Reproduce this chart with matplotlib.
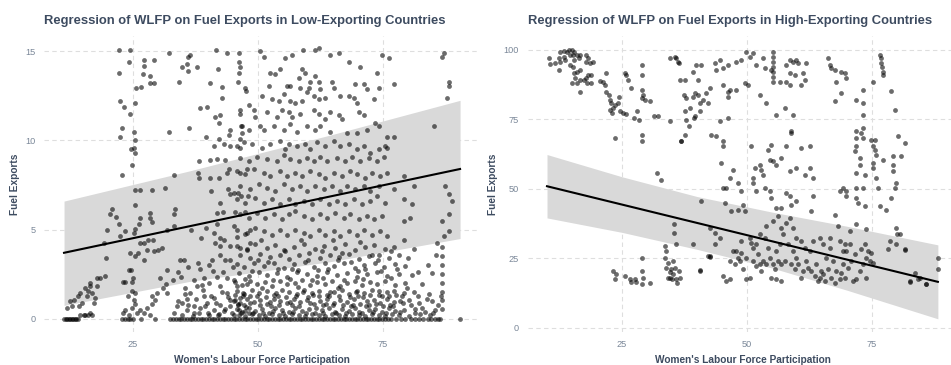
import numpy as np
import matplotlib
matplotlib.use("Agg")
import matplotlib.pyplot as plt

# ---- values ----
# low-exporting panel: points sitting on zero fuel exports (x only)
low_zero_x = [11.2, 11.5, 11.8, 12.1, 12.4, 12.7, 13.0, 13.3, 13.6, 14.0,
              22.8, 23.3, 23.9, 24.4, 24.9, 26.5, 29.4,
              32.4, 33.0, 33.5, 34.1, 34.6, 35.2, 35.7, 36.3, 36.8, 37.4, 37.9,
              38.5, 39.0, 39.6, 40.1, 40.7, 41.2, 41.8, 42.3, 42.9, 43.4, 44.0,
              44.5, 45.1, 45.6, 46.2, 46.7, 47.3, 47.8, 48.4, 48.9, 49.5, 50.0,
              50.6, 51.1, 51.7, 52.2, 52.8, 53.3, 53.9, 54.4, 55.0, 55.5, 56.1,
              56.6, 57.2, 57.7, 58.3, 58.8, 59.4, 59.9, 60.5, 61.0, 61.6, 62.1,
              62.7, 63.2, 63.8, 64.3, 64.9, 65.4, 66.0, 66.5, 67.1, 67.6, 68.2,
              68.7, 69.3, 69.8, 70.4, 70.9, 71.5, 72.0, 72.6, 73.1, 73.7, 74.2,
              74.8, 75.3, 75.9, 76.6, 77.5, 78.6, 79.4, 80.5, 81.3, 82.2, 83.0,
              83.9, 84.6, 85.4, 86.0, 86.4, 90.4]

low_top = [(22.2, 15.1), (24.3, 15.1), (22.2, 13.8), (24.1, 14.4), (27.1, 14.5), (27.1, 14.2),
           (29.1, 14.5), (26.9, 13.7), (28.4, 13.6), (28.3, 13.2), (29.1, 13.2), (25.6, 12.96),
           (26.5, 13.0), (25.3, 12.1), (22.4, 12.2), (23.1, 11.9), (24.3, 11.5), (22.7, 10.7),
           (22.4, 10.2), (25.1, 10.5), (25.3, 10.0), (25.1, 9.6), (25.3, 9.3), (24.6, 9.5),
           (24.7, 8.6), (22.7, 8.06), (32.1, 10.5), (36.1, 10.7), (32.1, 14.9), (34.2, 13.3),
           (34.7, 14.1), (35.7, 14.3), (35.9, 14.7), (36.4, 14.8), (35.9, 13.9), (37.7, 14.1),
           (38.3, 11.8), (39.7, 11.9), (40.3, 13.2), (41.6, 15.1), (43.7, 14.9), (41.9, 14.0),
           (42.8, 13.0), (42.7, 12.4), (39.6, 10.2), (41.4, 11.3), (42.4, 11.4), (42.1, 11.0),
           (42.1, 10.1), (41.1, 9.7), (43.1, 9.8), (44.3, 10.6), (44.1, 10.3), (46.1, 14.9),
           (46.1, 14.4), (46.4, 14.1), (46.1, 13.8), (45.9, 13.3), (47.4, 12.96), (47.6, 12.8),
           (46.4, 11.7), (46.5, 10.8), (46.7, 10.4), (46.3, 10.1), (44.4, 9.7), (46.3, 9.6),
           (50.4, 15.0), (51.1, 14.7), (55.4, 14.6), (56.7, 14.8), (58.9, 15.1), (61.4, 15.1),
           (62.1, 15.2), (64.4, 14.8), (66.1, 14.9), (68.1, 14.4), (70.4, 14.1), (74.7, 14.8),
           (76.1, 14.6), (73.7, 13.8), (52.4, 13.8), (53.4, 13.7), (54.4, 14.0), (52.1, 13.05),
           (55.7, 13.05), (56.4, 13.05), (58.1, 13.5), (58.7, 14.0), (59.4, 13.8), (60.4, 13.3),
           (61.4, 13.6), (62.1, 13.3), (62.4, 12.9), (60.1, 12.96), (58.4, 12.96), (64.7, 13.3),
           (65.1, 12.96), (69.4, 13.15), (71.1, 13.15), (71.7, 12.87), (74.1, 12.96), (77.1, 13.15),
           (86.7, 14.7), (87.1, 14.9), (88.1, 13.3), (88.2, 13.05), (87.7, 12.4), (85.1, 10.8),
           (48.1, 12.0), (49.1, 11.7), (50.7, 12.5), (52.7, 12.3), (54.1, 12.2), (55.1, 12.6),
           (56.4, 12.2), (57.4, 12.1), (58.7, 12.2), (59.7, 12.7), (61.1, 12.5), (62.1, 12.3),
           (63.4, 12.4), (66.4, 12.5), (68.1, 12.5), (69.1, 12.4), (69.7, 12.1), (73.1, 12.3),
           (46.4, 11.5), (49.4, 11.3), (51.7, 11.6), (53.7, 11.3), (54.7, 11.7), (56.1, 11.6),
           (56.7, 11.3), (58.4, 11.5), (61.1, 11.7), (62.1, 11.5), (63.4, 11.2), (64.4, 11.6),
           (66.1, 11.4), (66.7, 11.2), (70.1, 11.6), (71.1, 11.4), (73.4, 11.0), (74.1, 10.8),
           (46.7, 10.8), (48.1, 10.6), (50.4, 10.8), (51.1, 10.6), (53.1, 10.8), (55.1, 10.6),
           (56.4, 10.9), (57.7, 10.5), (59.7, 10.8), (61.4, 10.6), (62.4, 10.8), (64.4, 10.5),
           (67.7, 10.4), (69.7, 10.4), (71.7, 10.6), (75.7, 10.2), (77.1, 10.2), (75.4, 9.7)]

low_mid = [(25.3, 7.2), (26.3, 7.2), (28.7, 7.2), (25.3, 6.4), (31.4, 7.35), (33.2, 8.06),
           (38.1, 8.84), (40.3, 8.9), (41.7, 8.97), (43.4, 8.9), (37.9, 8.19), (38.1, 7.9),
           (40.4, 7.9), (42.1, 7.9), (43.7, 8.19), (44.1, 8.4), (46.4, 8.19), (47.7, 8.4),
           (43.9, 7.25), (44.4, 6.97), (45.1, 7.07), (45.9, 7.07), (46.5, 6.9), (47.9, 6.9),
           (40.6, 7.16), (42.4, 6.5), (42.9, 5.98), (41.7, 5.94), (45.4, 6.0), (47.4, 6.0),
           (33.4, 6.13), (33.1, 5.85), (31.7, 5.0), (33.2, 5.2), (36.5, 4.97), (38.6, 4.54),
           (39.6, 5.1), (41.7, 5.3), (41.1, 4.8), (41.4, 4.26), (42.4, 4.54), (42.4, 4.07),
           (43.1, 4.4), (45.1, 5.2), (45.7, 4.6), (47.4, 4.78), (48.3, 5.0), (48.3, 4.26),
           (46.3, 3.97), (44.4, 4.07), (42.4, 3.6), (43.4, 3.3), (44.4, 3.3), (47.7, 3.88),
           (40.7, 3.3), (40.1, 3.04), (38.4, 2.8), (37.9, 3.13), (34.4, 3.32), (35.2, 3.32),
           (31.7, 2.76), (29.9, 3.88), (30.7, 3.97), (28.9, 4.44), (29.1, 3.79), (27.7, 3.88),
           (27.2, 3.32), (27.1, 4.26), (27.9, 4.4), (28.3, 5.94), (28.4, 5.66), (28.7, 5.4),
           (26.4, 5.66), (26.1, 5.3), (25.4, 5.04), (25.2, 4.8), (26.3, 4.26), (25.9, 3.7),
           (25.3, 3.5), (24.3, 3.7), (24.5, 2.72), (24.1, 2.72), (22.4, 4.63), (23.4, 4.9),
           (22.1, 5.3), (21.6, 5.72), (20.4, 5.85), (20.7, 6.17), (19.7, 5.0), (19.1, 4.26),
           (19.6, 3.41),
           (45.7, 9.7), (47.1, 9.9), (48.7, 9.8), (50.7, 9.6), (52.4, 9.8), (54.4, 9.97),
           (55.4, 9.5), (56.1, 9.8), (57.7, 9.7), (59.4, 9.8), (60.4, 9.5), (61.7, 9.9),
           (63.4, 9.7), (65.1, 9.97), (66.4, 9.7), (68.1, 9.8), (69.7, 9.5), (71.1, 9.7),
           (72.4, 9.3), (74.1, 9.5), (75.7, 9.6), (46.4, 9.03), (48.1, 8.84), (49.7, 9.1),
           (51.7, 8.94), (53.7, 8.84), (55.1, 9.2), (56.4, 8.94), (58.1, 8.84), (59.7, 9.03),
           (61.1, 8.84), (62.4, 9.1), (63.7, 8.84), (65.7, 9.03), (67.4, 8.84), (68.7, 9.1),
           (70.4, 8.84), (72.1, 9.03), (73.7, 8.84), (75.1, 9.1), (45.7, 8.28), (47.4, 8.1),
           (49.1, 8.38), (51.1, 8.19), (52.4, 8.0), (54.4, 8.28), (55.7, 8.0), (57.4, 8.19),
           (58.7, 8.0), (60.4, 8.28), (62.1, 8.1), (63.4, 7.9), (65.1, 8.19), (66.7, 8.0),
           (68.4, 8.28), (69.7, 8.1), (71.4, 7.9), (72.7, 8.19), (74.4, 8.0), (75.7, 8.19),
           (79.1, 8.0), (46.4, 7.44), (48.4, 7.25), (50.1, 7.53), (51.7, 7.35), (53.4, 7.16),
           (55.1, 7.53), (56.7, 7.25), (58.4, 7.44), (59.7, 7.16), (61.4, 7.44), (63.1, 7.25),
           (64.7, 7.44), (66.4, 7.16), (67.7, 7.44), (69.4, 7.25), (71.1, 7.44), (72.4, 7.16),
           (74.1, 7.44), (77.1, 7.25), (81.1, 7.44), (87.4, 7.44), (88.1, 6.97), (88.7, 6.6),
           (45.7, 6.69), (47.4, 6.5), (49.4, 6.78), (51.1, 6.5), (52.7, 6.69), (54.4, 6.41),
           (56.1, 6.69), (57.4, 6.41), (59.1, 6.6), (60.7, 6.41), (62.4, 6.69), (64.1, 6.41),
           (65.7, 6.6), (67.4, 6.41), (69.1, 6.69), (70.7, 6.41), (72.4, 6.6), (73.7, 6.88),
           (75.4, 6.5), (79.1, 6.69), (80.7, 6.41), (46.4, 5.85), (48.1, 5.66), (49.7, 5.94),
           (51.4, 5.66), (53.1, 5.85), (54.7, 5.57), (56.1, 5.85), (57.4, 6.04), (59.1, 5.75),
           (60.7, 5.57), (62.4, 5.85), (63.7, 5.66), (65.4, 5.94), (67.1, 5.66), (68.4, 5.85),
           (70.1, 5.57), (71.7, 5.75), (73.1, 5.57), (74.7, 5.75), (80.4, 5.66), (79.1, 5.47),
           (86.7, 5.47), (88.1, 5.85), (45.7, 5.0), (47.7, 4.82), (49.4, 5.1), (51.1, 4.91),
           (52.7, 4.72), (54.4, 5.0), (55.7, 4.72), (57.4, 5.0), (59.1, 4.82), (60.4, 4.63),
           (62.1, 5.0), (63.4, 4.72), (65.1, 4.91), (66.4, 4.63), (68.1, 4.91), (69.7, 4.72),
           (71.1, 5.0), (72.7, 4.72), (74.4, 4.91), (75.7, 4.63), (79.1, 4.44), (87.1, 4.63),
           (88.1, 4.91), (85.7, 4.26)]

low_bottom = [(22.9, 2.05), (23.4, 2.05), (24.7, 2.05), (24.9, 2.29), (24.7, 1.54), (25.3, 1.45),
              (30.4, 2.29), (31.6, 1.97), (30.9, 1.73), (31.7, 1.45), (32.9, 2.2), (34.5, 2.34),
              (37.1, 2.16), (35.4, 1.73), (36.3, 1.45), (37.7, 1.82), (39.1, 2.29), (40.1, 2.01),
              (41.7, 2.34), (43.7, 2.29), (45.1, 2.16), (42.4, 1.82), (43.7, 1.45), (45.7, 1.82),
              (47.7, 1.97), (46.9, 1.45), (33.7, 0.7), (34.7, 0.88), (35.7, 0.51), (37.1, 0.7),
              (38.4, 0.6), (39.7, 0.88), (41.1, 0.51), (42.4, 0.79), (43.1, 0.42), (44.4, 0.7),
              (45.1, 0.98), (46.1, 0.51), (47.1, 0.79), (48.1, 0.33), (35.7, 1.11), (39.1, 1.26),
              (41.1, 1.17), (44.4, 1.07), (46.4, 1.17), (37.1, 0.33), (40.1, 0.23), (42.1, 0.29),
              (45.1, 0.23), (47.4, 0.42), (22.9, 0.33), (23.4, 0.51), (24.1, 0.23), (24.7, 0.6),
              (25.3, 0.85), (25.7, 0.33), (26.4, 0.51), (27.1, 0.33), (27.7, 0.6), (28.3, 0.23),
              (23.9, 1.26), (25.1, 1.04), (28.7, 0.85), (29.4, 1.07), (29.7, 1.45), (28.7, 1.26),
              (11.7, 0.6), (12.4, 0.98), (13.2, 1.07), (12.7, 0.7), (13.9, 1.26), (14.3, 1.45),
              (14.1, 0.7), (14.7, 0.88), (15.1, 0.23), (15.4, 0.23), (15.7, 1.26), (15.9, 1.54),
              (15.4, 1.73), (16.3, 1.82), (16.4, 2.01), (16.7, 1.45), (17.1, 0.88), (17.4, 1.17),
              (17.7, 1.82), (17.7, 2.29), (18.4, 2.29), (19.4, 2.38), (15.9, 0.23), (16.4, 0.33),
              (16.7, 0.23), (14.4, 0.23),
              (45.7, 4.1), (47.7, 3.9), (49.4, 4.2), (51.7, 3.95), (53.4, 4.15), (55.1, 3.85),
              (57.1, 4.05), (59.1, 4.2), (61.4, 3.9), (63.1, 4.1), (65.4, 3.95), (67.4, 4.2),
              (69.4, 3.85), (71.4, 4.05), (73.1, 4.15), (75.4, 3.9), (77.1, 4.0), (81.1, 3.9),
              (86.7, 4.0), (46.4, 3.55), (48.4, 3.4), (50.4, 3.65), (52.4, 3.45), (54.4, 3.6),
              (56.1, 3.35), (58.1, 3.55), (60.1, 3.7), (62.4, 3.4), (64.4, 3.6), (66.1, 3.45),
              (68.1, 3.65), (70.1, 3.35), (72.1, 3.5), (74.1, 3.6), (76.1, 3.4), (78.1, 3.55),
              (86.7, 3.5), (45.7, 3.05), (47.1, 2.9), (49.1, 3.15), (51.1, 2.95), (53.1, 3.1),
              (55.1, 2.85), (57.1, 3.05), (59.4, 3.2), (61.1, 2.9), (63.4, 3.1), (65.1, 2.95),
              (67.1, 3.15), (69.4, 2.85), (71.1, 3.0), (73.4, 3.1), (75.1, 2.9), (77.4, 3.05),
              (79.4, 2.95), (86.7, 3.0), (46.1, 2.55), (48.1, 2.4), (50.1, 2.6), (51.7, 2.45),
              (53.7, 2.55), (55.7, 2.35), (57.7, 2.6), (59.7, 2.5), (61.7, 2.4), (63.7, 2.6),
              (65.7, 2.45), (67.7, 2.55), (69.7, 2.35), (71.7, 2.5), (73.7, 2.6), (75.7, 2.4),
              (78.1, 2.5), (80.7, 2.45), (84.7, 2.55), (86.7, 2.5), (45.4, 2.05), (46.7, 1.9),
              (48.4, 2.1), (49.7, 1.95), (51.4, 2.05), (52.7, 1.85), (54.4, 2.1), (55.7, 1.95),
              (57.4, 2.0), (58.7, 2.15), (60.4, 1.9), (61.7, 2.05), (63.4, 1.95), (64.7, 2.1),
              (66.4, 1.85), (67.7, 2.0), (69.4, 2.1), (70.7, 1.9), (72.4, 2.05), (73.7, 1.95),
              (75.4, 2.1), (77.4, 1.9), (79.4, 2.0), (82.7, 1.95), (86.7, 2.0), (45.7, 1.55),
              (47.1, 1.4), (48.7, 1.6), (50.1, 1.45), (51.7, 1.55), (53.1, 1.35), (54.7, 1.6),
              (56.1, 1.5), (57.7, 1.4), (59.1, 1.6), (60.7, 1.45), (62.1, 1.55), (63.7, 1.35),
              (65.1, 1.5), (66.7, 1.6), (68.1, 1.4), (69.7, 1.55), (71.1, 1.45), (72.7, 1.6),
              (74.1, 1.35), (75.7, 1.5), (77.1, 1.55), (79.1, 1.45), (81.1, 1.5), (84.1, 1.4),
              (86.7, 1.5), (45.4, 1.05), (46.4, 0.9), (47.7, 1.1), (49.1, 0.95), (50.4, 1.05),
              (51.7, 0.85), (53.1, 1.1), (54.4, 1.0), (55.7, 0.9), (57.1, 1.1), (58.4, 0.95),
              (59.7, 1.05), (61.1, 0.85), (62.4, 1.0), (63.7, 1.1), (65.1, 0.9), (66.4, 1.05),
              (67.7, 0.95), (69.1, 1.1), (70.4, 0.85), (71.7, 1.0), (73.1, 1.05), (74.4, 0.9),
              (75.7, 1.1), (77.1, 0.95), (78.4, 1.0), (80.1, 1.05), (82.1, 0.9), (84.7, 1.0),
              (86.7, 1.05), (45.7, 0.55), (46.7, 0.4), (48.1, 0.6), (49.4, 0.45), (50.7, 0.55),
              (52.1, 0.35), (53.4, 0.6), (54.7, 0.5), (56.1, 0.4), (57.4, 0.6), (58.7, 0.45),
              (60.1, 0.55), (61.4, 0.35), (62.7, 0.5), (64.1, 0.6), (65.4, 0.4), (66.7, 0.55),
              (68.1, 0.45), (69.4, 0.6), (70.7, 0.35), (72.1, 0.5), (73.4, 0.55), (74.7, 0.4),
              (76.1, 0.6), (77.4, 0.45), (79.1, 0.5), (81.4, 0.55), (83.4, 0.4), (85.4, 0.5),
              (86.7, 0.55), (46.1, 0.2), (47.4, 0.15), (48.7, 0.25), (50.1, 0.2), (51.4, 0.15),
              (52.7, 0.25), (54.1, 0.2), (55.4, 0.15), (56.7, 0.25), (58.1, 0.2), (59.4, 0.15),
              (60.7, 0.25), (62.1, 0.2), (63.4, 0.15), (64.7, 0.25), (66.1, 0.2), (67.4, 0.15),
              (68.7, 0.25), (70.1, 0.2), (71.4, 0.15), (72.7, 0.25), (74.1, 0.2), (75.4, 0.15),
              (76.7, 0.25), (78.1, 0.2), (80.1, 0.15), (82.4, 0.25), (84.4, 0.2),
              (46.0, 0.75), (48.3, 1.25), (50.8, 1.75), (52.5, 0.7), (54.0, 1.3), (56.8, 0.75),
              (58.0, 1.8), (60.0, 1.2), (62.9, 0.75), (64.2, 1.3), (66.0, 1.75), (68.6, 0.7),
              (70.0, 1.25), (72.2, 0.8), (74.8, 1.25), (76.4, 0.75), (78.8, 1.3), (57.9, 2.75),
              (61.9, 2.75), (65.9, 3.3), (69.9, 2.7), (53.9, 2.8), (49.9, 3.3), (73.9, 3.3),
              (47.3, 2.25), (56.4, 2.25), (63.0, 2.3), (71.0, 2.25), (76.6, 2.3)]

# extra points in the densest strip near the floor of the low panel
low_dense = [(33.2, 0.3), (34.0, 1.0), (34.8, 0.2), (35.3, 1.4), (36.0, 0.8), (36.9, 0.15),
             (37.5, 1.1), (38.2, 0.35), (38.9, 1.6), (39.4, 0.7), (40.0, 0.3), (40.6, 1.3),
             (41.5, 0.9), (42.0, 0.2), (42.8, 1.5), (43.4, 0.55), (44.0, 1.2), (44.8, 0.3),
             (45.3, 1.35), (45.9, 0.85), (46.5, 0.3), (47.0, 1.25), (47.6, 0.65), (48.4, 0.9),
             (49.0, 0.3), (49.7, 1.3), (50.3, 0.75), (51.0, 0.3), (51.5, 1.2), (52.3, 0.95),
             (52.9, 0.45), (53.6, 1.45), (54.2, 0.75), (54.9, 0.3), (55.5, 1.2), (56.3, 0.95),
             (56.9, 0.4), (57.6, 1.25), (58.2, 0.7), (58.9, 1.5), (59.5, 0.35), (60.3, 0.9),
             (60.9, 1.35), (61.6, 0.6), (62.2, 1.25), (62.9, 0.3), (63.5, 0.85), (64.4, 1.5),
             (64.9, 0.75), (65.6, 0.3), (66.2, 1.3), (66.9, 0.8), (67.5, 0.35), (68.3, 1.2),
             (68.9, 0.8), (69.6, 1.5), (70.2, 0.4), (70.9, 1.2), (71.6, 0.7), (72.3, 1.35),
             (72.9, 0.4), (73.6, 0.85), (74.2, 1.55), (74.9, 0.7), (75.5, 0.3), (76.2, 1.25),
             (76.9, 0.7), (77.6, 1.35), (78.3, 0.4), (79.0, 0.9), (79.8, 1.7), (80.6, 0.8),
             (81.3, 0.3), (82.0, 1.3), (82.8, 0.6), (83.8, 1.1), (85.0, 0.3), (85.9, 0.8),
             (86.5, 1.3), (48.8, 2.7), (50.6, 4.4), (52.0, 3.2), (53.0, 2.2), (55.3, 3.8),
             (56.7, 2.8), (58.5, 4.4), (59.9, 3.3), (60.8, 2.2), (62.8, 3.8), (64.0, 2.8),
             (65.0, 4.4), (66.8, 3.7), (67.2, 2.2), (68.6, 3.2), (70.4, 4.3), (71.3, 2.8),
             (72.8, 3.6), (74.6, 2.7), (76.6, 3.8), (77.8, 2.8), (80.0, 3.4), (82.0, 2.6),
             (84.0, 3.0), (85.6, 3.6), (34.0, 2.6), (36.0, 2.9), (38.7, 1.9), (40.9, 2.7),
             (42.9, 2.6), (44.9, 2.9)]

# fitted line and band of the low-exporting panel
low_fit_x = [11.2, 90.4]
low_fit_y = [3.7, 8.4]
low_band_x = [11.2, 36.4, 64.4, 90.4]
low_band_lo = [0.75, 2.1, 3.2, 4.5]
low_band_hi = [6.6, 8.3, 10.3, 12.25]

# high-exporting panel
high_top = [(10.3, 96.9), (10.6, 94.9), (11.6, 95.1), (12.4, 96.9), (12.6, 99.3), (13.3, 99.5),
            (13.9, 99.3), (12.6, 95.7), (12.3, 92.7), (13.3, 97.5), (13.6, 96.3), (14.6, 98.1),
            (15.3, 99.3), (14.3, 99.9), (14.9, 99.9), (15.1, 98.1), (15.9, 98.1), (16.6, 98.1),
            (16.3, 96.9), (15.3, 96.3), (14.6, 94.5), (17.9, 98.1), (18.3, 96.9), (17.8, 95.7),
            (18.6, 95.1), (19.3, 95.7), (15.1, 93.9), (15.3, 91.5), (15.9, 92.1), (16.6, 92.7),
            (15.6, 89.7), (14.9, 87.9), (15.9, 87.9), (16.6, 89.1), (17.3, 89.1), (17.9, 89.7),
            (16.6, 84.9), (18.3, 90.9), (18.9, 90.9), (18.9, 87.9), (18.1, 87.9), (20.6, 88.8),
            (21.3, 88.5), (21.6, 87.3), (21.9, 91.5), (21.9, 84.9), (22.5, 83.7), (22.6, 81.9),
            (22.9, 80.7), (23.3, 78.9), (22.7, 78.4), (23.1, 77.2), (23.6, 80.1), (24.3, 80.7),
            (24.6, 77.8), (25.3, 77.2), (25.8, 76.8), (24.5, 83.1), (23.6, 68.2), (25.6, 91.5),
            (25.9, 90.9), (26.3, 89.1), (26.9, 86.1), (27.4, 75.4), (28.5, 74.8), (28.1, 77.8),
            (29.1, 94.5), (29.1, 90.9), (29.1, 85.5), (29.1, 82.5), (29.6, 81.9), (30.6, 81.6),
            (29.1, 69.4), (29.1, 67.0), (29.3, 83.7), (31.4, 76.0), (32.3, 76.0), (34.7, 74.2),
            (34.7, 96.9), (35.6, 97.5), (35.9, 97.1), (36.5, 95.1), (36.6, 89.1), (36.9, 67.0),
            (37.6, 69.4), (37.4, 83.7), (37.8, 82.5), (37.6, 77.8), (37.9, 74.8), (38.5, 72.4),
            (38.7, 78.9), (39.3, 83.1), (39.6, 84.3), (39.3, 92.1), (39.9, 94.5), (40.9, 94.5),
            (40.3, 89.1), (40.3, 83.7), (40.6, 80.7), (39.6, 76.0), (39.4, 75.4), (40.6, 77.8),
            (41.3, 81.9), (41.9, 84.3), (42.3, 80.7), (42.6, 86.1), (42.9, 69.4),
            (43.6, 95.1), (44.6, 96.3), (43.9, 92.7), (45.3, 93.3), (46.3, 94.5), (47.9, 95.7),
            (48.9, 96.3), (49.9, 99.3), (50.6, 97.5), (51.3, 98.7), (51.9, 94.5), (53.3, 96.9),
            (53.6, 93.3), (54.9, 92.7), (55.3, 99.3), (55.3, 97.5), (55.3, 95.7), (55.3, 93.9),
            (55.3, 92.1), (55.3, 90.3), (55.3, 88.5), (56.6, 88.5), (57.9, 94.5), (58.6, 96.3),
            (59.3, 95.7), (59.9, 96.3), (60.3, 95.1), (58.6, 91.5), (59.6, 90.9), (57.9, 88.5),
            (58.6, 87.3), (61.3, 91.5), (61.9, 95.1), (61.6, 89.1), (60.9, 87.3), (66.3, 96.9),
            (66.6, 94.5), (66.9, 93.3), (67.6, 92.7), (67.9, 88.5), (68.9, 92.1), (69.6, 91.5),
            (69.9, 89.7), (68.9, 84.3), (67.6, 81.4), (71.9, 81.9), (73.3, 85.5), (76.6, 98.1),
            (76.9, 96.9), (76.9, 95.1), (77.1, 93.9), (77.3, 92.1), (77.3, 90.9), (75.3, 88.5),
            (78.9, 85.0), (79.6, 78.4), (45.3, 87.3), (46.3, 84.9), (46.6, 85.5), (46.3, 83.1),
            (49.6, 87.9), (50.3, 87.3), (47.9, 85.5), (52.6, 83.7), (53.9, 80.7), (55.9, 76.6),
            (57.6, 79.0), (59.3, 76.6), (58.9, 70.0), (36.3, 95.7), (37.6, 89.1)]

high_mid = [(32.1, 55.6), (32.9, 53.3), (40.9, 45.5), (35.4, 34.2), (35.4, 37.4),
            (43.9, 68.8), (45.3, 67.0), (45.3, 65.2), (44.9, 59.3), (44.6, 74.2), (46.3, 75.4),
            (45.3, 50.3), (45.9, 50.3), (47.3, 56.9), (46.6, 53.9), (48.3, 52.1), (48.9, 49.1),
            (50.9, 65.2), (51.6, 57.5), (51.3, 53.9), (51.3, 52.1), (51.9, 49.1), (52.6, 58.7),
            (52.9, 56.9), (53.3, 55.1), (54.3, 64.0), (54.9, 65.8), (54.6, 60.4), (55.3, 59.9),
            (55.9, 58.7), (56.9, 61.0), (57.9, 65.2), (58.9, 70.6), (58.6, 56.3), (59.9, 57.5),
            (60.9, 64.6), (61.6, 55.1), (62.6, 57.5), (62.6, 65.2), (63.3, 53.9), (62.9, 41.9),
            (63.3, 47.3), (53.6, 50.3), (54.6, 49.1), (54.9, 46.7), (55.9, 43.1), (56.9, 43.1),
            (57.9, 48.5), (58.6, 47.3), (58.9, 44.3), (59.9, 45.5), (49.3, 44.3), (49.6, 41.9),
            (45.6, 44.9), (46.9, 41.9), (48.3, 42.5), (68.6, 49.1), (69.3, 50.3), (69.9, 49.1),
            (69.9, 47.3), (71.9, 70.6), (71.9, 68.2), (72.9, 70.0), (73.3, 71.8), (73.3, 68.2),
            (71.9, 65.2), (71.6, 63.4), (72.6, 61.0), (72.6, 58.7), (71.9, 55.7), (73.6, 55.1),
            (71.9, 50.3), (73.3, 50.3), (71.9, 46.7), (72.3, 44.9), (73.6, 43.7), (74.9, 67.6),
            (75.6, 67.6), (75.3, 65.2), (75.6, 64.0), (75.9, 62.2), (75.3, 59.3), (75.3, 57.5),
            (75.9, 53.9), (76.3, 50.3), (77.3, 60.4), (79.3, 61.6), (79.3, 58.7), (79.3, 56.3),
            (79.9, 52.1), (79.6, 50.3), (78.9, 46.7), (77.9, 42.5), (80.3, 68.8), (80.9, 61.6),
            (81.6, 66.4), (73.3, 76.6), (73.3, 80.7), (76.6, 43.7), (67.6, 40.7), (68.3, 36.5),
            (36.9, 67.0)]

high_low = [(23.3, 20.4), (23.9, 19.2), (23.6, 17.4), (25.6, 18.6), (26.6, 17.4), (26.9, 16.6),
            (27.6, 17.4), (27.9, 16.6), (29.1, 25.2), (29.1, 20.4), (29.3, 18.0), (29.1, 15.9),
            (30.6, 16.2), (33.6, 29.4), (33.9, 27.6), (33.6, 25.2), (33.9, 21.6), (34.3, 23.4),
            (34.6, 20.2), (34.9, 21.0), (35.3, 19.2), (34.3, 18.0), (34.6, 17.8), (35.1, 17.4),
            (35.9, 17.4), (36.1, 16.2), (36.6, 18.0), (36.5, 20.4), (35.6, 21.4), (35.3, 24.0),
            (35.9, 30.2), (39.3, 30.0), (40.6, 20.7), (42.6, 25.6), (42.3, 25.8),
            (42.6, 36.0), (43.6, 34.2), (44.6, 32.4), (43.6, 30.0), (42.6, 25.8), (45.3, 18.6),
            (45.9, 16.8), (46.6, 17.4), (47.3, 27.6), (47.9, 27.6), (48.3, 25.2), (48.9, 27.0),
            (49.3, 21.0), (48.9, 31.2), (49.9, 17.4), (50.6, 18.0), (50.6, 32.4), (50.9, 30.6),
            (51.3, 28.8), (51.9, 30.0), (52.3, 26.4), (52.6, 22.8), (52.9, 20.4), (52.6, 33.6),
            (53.6, 32.4), (54.3, 28.8), (54.6, 25.2), (55.3, 22.8), (54.9, 18.0), (55.9, 17.4),
            (56.9, 16.8), (55.9, 27.6), (56.6, 30.0), (57.3, 33.6), (57.9, 37.8), (58.6, 39.5),
            (59.3, 36.0), (58.3, 30.0), (59.3, 27.6), (59.9, 25.2), (60.3, 22.8), (60.9, 18.0),
            (61.3, 20.4), (61.9, 24.0), (62.6, 27.6), (63.3, 31.2), (63.9, 22.8), (64.6, 18.0),
            (65.3, 19.2), (65.6, 16.8), (65.9, 25.2), (66.6, 28.8), (67.3, 24.0), (67.9, 20.4),
            (68.6, 17.4), (69.3, 22.8), (69.9, 27.6), (70.6, 30.0), (71.3, 16.8), (71.9, 17.4),
            (72.6, 20.4), (73.3, 22.8), (73.9, 25.2), (74.3, 27.6), (74.6, 24.0), (75.3, 23.4),
            (73.9, 18.0), (70.6, 34.8), (71.9, 37.2), (73.9, 35.4), (79.9, 35.9), (80.6, 33.6),
            (78.6, 31.2), (79.9, 30.0), (81.6, 28.2), (82.6, 16.8), (83.6, 19.8), (84.6, 18.0),
            (85.9, 15.6), (88.3, 25.2), (88.3, 21.0), (46.6, 24.0), (47.6, 22.8), (48.6, 24.0),
            (49.9, 25.2), (51.3, 24.0), (51.9, 22.2), (53.3, 24.0), (53.9, 22.8), (55.6, 21.0),
            (56.3, 24.0), (56.9, 22.8), (57.6, 24.0), (58.9, 22.8), (59.6, 21.0), (62.3, 21.6),
            (62.9, 20.4), (63.6, 18.6), (64.3, 16.8), (64.9, 20.4), (66.3, 21.0), (66.9, 18.0),
            (67.6, 16.2), (68.9, 19.8), (69.6, 18.0), (70.3, 21.6), (70.9, 24.0), (71.6, 26.4),
            (72.9, 28.2), (73.6, 30.0), (74.9, 27.0), (53.9, 36.5), (55.3, 38.4), (56.3, 40.1),
            (56.9, 36.0), (59.9, 32.4), (60.9, 31.2), (61.6, 28.8), (64.6, 32.4), (65.3, 30.0),
            (66.6, 32.4), (68.6, 31.2), (69.6, 30.0), (69.3, 27.6), (85.9, 15.7), (84.3, 17.5),
            (82.6, 16.3), (81.6, 27.9), (78.3, 28.2), (80.1, 33.6), (40.6, 20.5)]

high_fit_x = [10.0, 88.2]
high_fit_y = [50.9, 16.5]
high_band_x = [10.0, 25.0, 40.0, 55.0, 70.0, 88.2]
high_band_lo = [39.5, 34.3, 28.2, 21.5, 13.5, 3.2]
high_band_hi = [62.3, 54.3, 47.2, 41.6, 36.5, 29.8]

# ---- style ----
title_col = '#3d4b60'
tick_col = '#7a8798'
plt.rcParams['font.family'] = ['Liberation Sans', 'DejaVu Sans']

fig = plt.figure(figsize=(9.51, 3.65), dpi=100)
fig.patch.set_facecolor('white')
ax1 = fig.add_axes([0.0463, 0.090, 0.4585, 0.811])
ax2 = fig.add_axes([0.5547, 0.090, 0.452, 0.811])


def style(ax, title):
    ax.set_facecolor('white')
    for s in ax.spines.values():
        s.set_visible(False)
    ax.grid(True, color='#dedede', linestyle=(0, (4, 3)), linewidth=0.8)
    ax.set_axisbelow(True)
    ax.tick_params(length=0, colors=tick_col, labelsize=6.6, pad=6)
    ax.set_title(title, loc='left', fontsize=9.35, fontweight='bold', color=title_col, pad=9)
    ax.set_xlabel("Women's Labour Force Participation", fontsize=7.3, fontweight='bold',
                  color=title_col, labelpad=4)
    ax.set_ylabel('Fuel Exports', fontsize=7.3, fontweight='bold', color=title_col, labelpad=4)


pts = dict(s=12, color='black', alpha=0.58, linewidths=0, zorder=2)

# low exporters
ax1.fill_between(low_band_x, low_band_lo, low_band_hi, color='#d9d9d9', lw=0, zorder=1)
for grp in (low_top, low_mid, low_bottom, low_dense):
    gx, gy = zip(*grp)
    ax1.scatter(gx, gy, **pts)
ax1.scatter(low_zero_x, np.zeros(len(low_zero_x)), **pts)
ax1.plot(low_fit_x, low_fit_y, color='black', lw=1.5, zorder=3)
ax1.set_xlim(7.2, 94.4)
ax1.set_ylim(-0.75, 15.85)
ax1.set_xticks([25, 50, 75])
ax1.set_yticks([0, 5, 10, 15])
style(ax1, 'Regression of WLFP on Fuel Exports in Low-Exporting Countries')

# high exporters
ax2.fill_between(high_band_x, high_band_lo, high_band_hi, color='#d9d9d9', lw=0, zorder=1)
for grp in (high_top, high_mid, high_low):
    gx, gy = zip(*grp)
    ax2.scatter(gx, gy, **pts)
ax2.plot(high_fit_x, high_fit_y, color='black', lw=1.5, zorder=3)
ax2.set_xlim(6.1, 92.1)
ax2.set_ylim(-1.6, 104.9)
ax2.set_xticks([25, 50, 75])
ax2.set_yticks([0, 25, 50, 75, 100])
style(ax2, 'Regression of WLFP on Fuel Exports in High-Exporting Countries')

fig.savefig('out.png', dpi=100)
